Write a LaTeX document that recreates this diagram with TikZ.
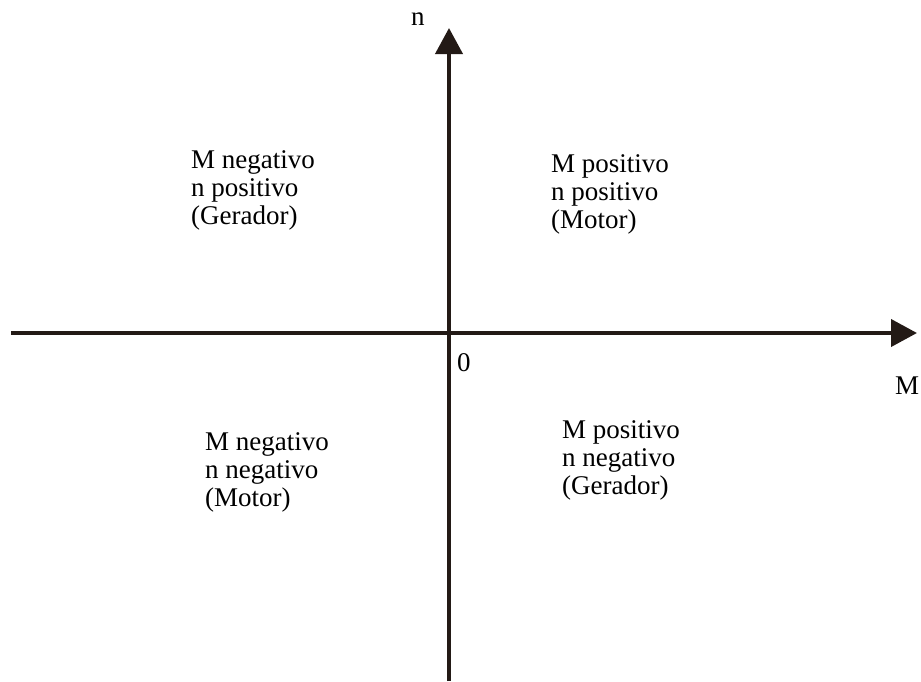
\documentclass[tikz,border=0pt]{standalone}
\usepackage{fontspec}
\setmainfont{Liberation Serif}
\usepackage{tikz}
\usetikzlibrary{positioning, arrows.meta}
\definecolor{EixoCor}{RGB}{35,26,22}

\begin{document}
\begin{tikzpicture}[
    x=1pt, y=-1pt,
    eixo/.style={-{Triangle[length=26pt, width=27pt]}, line width=4pt, EixoCor},
    quad/.style={anchor=base west, align=left, inner sep=0pt, font=\fontsize{27}{28}\selectfont},
    rot/.style={anchor=base west, inner sep=0pt, font=\fontsize{27}{28}\selectfont}
]
    \useasboundingbox (0,0) rectangle (921,681);
    \coordinate (mini) at (11,333);
    \coordinate (mfim) at (917,333);
    \coordinate (nini) at (449,681);
    \coordinate (nfim) at (449,28);
    \draw[eixo] (mini) -- (mfim);
    \draw[eixo] (nini) -- (nfim);
    \node[rot] (n) at (411,25) {n};
    \node[rot] (m) at (895,394) {M};
    \node[rot] (zero) at (457,371) {0};
    % base = ultima linha do bloco
    \node[quad] (q2) at (191,224) {M negativo\\ n positivo\\ (Gerador)};
    \node[quad] (q1) at (551,228) {M positivo\\ n positivo\\ (Motor)};
    \node[quad] (q3) at (205,506) {M negativo\\ n negativo\\ (Motor)};
    \node[quad] (q4) at (562,494) {M positivo\\ n negativo\\ (Gerador)};
\end{tikzpicture}
\end{document}
